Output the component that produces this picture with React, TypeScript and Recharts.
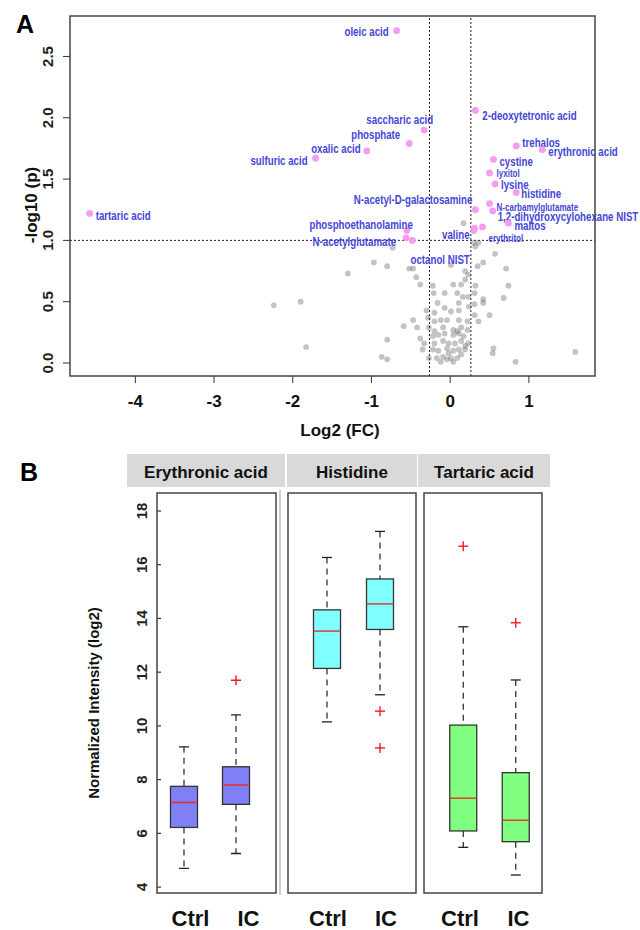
import React from 'react'
import { ScatterChart, Scatter, XAxis, YAxis, ReferenceLine, ComposedChart, Bar } from 'recharts'

// ---- Panel A: volcano plot ----
const sigNames = [
  'oleic acid', '2-deoxytetronic acid', 'saccharic acid', 'phosphate', 'oxalic acid', 'sulfuric acid',
  'trehalos', 'erythronic acid', 'cystine', 'lyxitol', 'lysine', 'histidine', 'N-carbamylglutamate',
  '1,2-dihydroxycylohexane NIST', 'N-acetyl-D-galactosamine', 'maltos', 'valine', 'erythritol',
  'octanol NIST', 'tartaric acid', 'phosphoethanolamine', 'N-acetylglutamate', '',
]
const sigFC = [-0.68, 0.32, -0.33, -0.52, -1.06, -1.71, 0.84, 1.17, 0.55, 0.5, 0.57, 0.84, 0.5, 0.54, 0.32, 0.74, 0.31, 0.41, 0.3, -4.58, -0.55, -0.56, -0.48]
const sigP = [2.71, 2.06, 1.9, 1.79, 1.73, 1.67, 1.77, 1.74, 1.66, 1.55, 1.46, 1.39, 1.3, 1.24, 1.25, 1.14, 1.1, 1.11, 1.08, 1.22, 1.08, 1.02, 1.0]

const bgFC = [
  -0.73, -0.97, -0.8, -1.3, -0.52, -0.47, -0.43, -0.38, -2.24, -1.9, -1.83, -0.8, -0.87, -0.8, -0.59, -0.47, -0.42,
  0.01, 0.19, 0.35, 0.42, 0.57, 0.71, 0.74, 0.68, 0.42, 0.42, 0.5, 0.32, 0.19, 0.14, 0.3, 0.36, 0.32, 0.17, 0.23,
  0.31, 0.23, 0.31, 0.31, 0.36, 0.55, 0.54, 0.83, 1.59,
  -0.22, -0.21, -0.07, 0.04, 0.09, 0.16, -0.16, -0.3, -0.2, -0.07, 0.01, 0.11, -0.28, -0.12, -0.04, 0.11, 0.22,
  -0.27, -0.2, -0.09, 0.04, 0.14, 0.22, -0.22, -0.15, -0.07, 0.04, 0.09, 0.11, 0.17, -0.33, -0.2, -0.09, -0.02,
  0.06, 0.14, 0.23, -0.35, -0.22, -0.15, -0.04, 0.04, 0.11, 0.19, -0.27, -0.17, -0.09, -0.04, 0.01, 0.04, 0.09,
  -0.12, 0.14, -0.02, -0.2, 0.11, 0.24, -0.38, 0.19,
]
const bgP = [
  0.94, 0.82, 0.79, 0.73, 0.77, 0.77, 0.7, 0.64, 0.47, 0.5, 0.13, 0.19, 0.05, 0.03, 0.3, 0.35, 0.29,
  0.8, 0.75, 0.79, 0.82, 0.89, 0.77, 0.63, 0.53, 0.52, 0.49, 0.39, 0.63, 0.68, 0.64, 0.98, 0.98, 0.95, 1.14, 0.72,
  0.57, 0.54, 0.48, 0.39, 0.34, 0.12, 0.08, 0.01, 0.09,
  0.63, 0.57, 0.57, 0.64, 0.57, 0.54, 0.49, 0.43, 0.41, 0.45, 0.42, 0.43, 0.37, 0.35, 0.35, 0.35, 0.34,
  0.29, 0.26, 0.29, 0.27, 0.29, 0.27, 0.22, 0.23, 0.24, 0.23, 0.26, 0.24, 0.22, 0.16, 0.16, 0.18, 0.16,
  0.16, 0.18, 0.16, 0.11, 0.11, 0.1, 0.12, 0.1, 0.11, 0.11, 0.04, 0.04, 0.05, 0.03, 0.04, 0.01, 0.04,
  0.01, 0.07, 0.08, 0.34, 0.49, 0.46, 0.2, 0.14,
]

const fcTicks = [-4, -3, -2, -1, 0, 1]
const pTicks = [0, 0.5, 1, 1.5, 2, 2.5]
const fcCutoff = 0.263
const pCutoff = 1

// ---- Panel B: box plots ----
const metabolites = ['Erythronic acid', 'Histidine', 'Tartaric acid']
const groups = ['Ctrl', 'IC']
const whiskerLow = [[4.7, 5.25], [10.15, 11.16], [5.48, 4.45]]
const quart1 = [[6.22, 7.08], [12.14, 13.59], [6.09, 5.69]]
const medians = [[7.15, 7.8], [13.53, 14.54], [7.31, 6.49]]
const quart3 = [[7.75, 8.48], [14.32, 15.47], [10.03, 8.26]]
const whiskerHigh = [[9.22, 10.41], [16.27, 17.24], [13.69, 11.71]]
const outliers = [[[], [11.7]], [[], [10.55, 9.18]], [[16.69], [13.84]]]
const intensityTicks = [4, 6, 8, 10, 12, 14, 16, 18]

// label placement next to each point (anchor, dx, dy, small font)
const labelSpot: Record<string, [string, number, number, boolean?]> = {
  'oleic acid': ['end', -8, 0],
  '2-deoxytetronic acid': ['start', 7, 4],
  'saccharic acid': ['end', 9, -11],
  phosphate: ['end', -9, -10],
  'oxalic acid': ['end', -6, -3],
  'sulfuric acid': ['end', -8, 2],
  trehalos: ['start', 6, -4],
  'erythronic acid': ['start', 6, 1],
  cystine: ['start', 6, 1],
  lyxitol: ['start', 7, 0, true],
  lysine: ['start', 6, 0],
  histidine: ['start', 5, 0],
  'N-carbamylglutamate': ['start', 7, 3, true],
  '1,2-dihydroxycylohexane NIST': ['start', 5, 5],
  'N-acetyl-D-galactosamine': ['end', -3, -11],
  maltos: ['start', 6, 2],
  valine: ['end', -5, 6],
  erythritol: ['start', 6, 11, true],
  'octanol NIST': ['end', -4, 28],
  'tartaric acid': ['start', 6, 1],
  phosphoethanolamine: ['end', 6, -7],
  'N-acetylglutamate': ['end', -10, 3],
}

const sigData = sigNames.map((name, i) => ({ name, fc: sigFC[i], p: sigP[i] }))
const bgData = bgFC.map((fc, i) => ({ fc, p: bgP[i] }))

const boldFont = "'Liberation Sans', Arial, sans-serif"
const labelBlue = '#4646d8'

const GreyDot = (props: any) => <circle cx={props.cx} cy={props.cy} r={2.9} fill="#444" fillOpacity={0.32} />

const SigDot = (props: any) => {
  const { cx, cy, payload } = props
  const spot = labelSpot[payload.name]
  return (
    <g>
      <circle cx={cx} cy={cy} r={3.4} fill="#f79cf2" />
      {spot && (
        // condensed label: the reference uses a narrow bold face
        <text
          transform={`translate(${cx + spot[1]} ${cy + spot[2]}) scale(0.73 1)`}
          textAnchor={spot[0] as any}
          dominantBaseline="central"
          fontFamily={boldFont}
          fontWeight="bold"
          fontSize={spot[3] ? 11 : 13.3}
          fill={labelBlue}
        >
          {payload.name}
        </text>
      )}
    </g>
  )
}

const RotTick = (props: any) => {
  const { x, y, payload, shift } = props
  const tx = x + shift
  return (
    <text x={tx} y={y} transform={`rotate(-90 ${tx} ${y})`} textAnchor="middle" fontFamily={boldFont} fontWeight="bold" fontSize={15} fill="#222">
      {payload.value.toFixed(1)}
    </text>
  )
}

const FcTick = (props: any) => (
  <text x={props.x} y={props.y + 20} textAnchor="middle" fontFamily={boldFont} fontWeight="bold" fontSize={17} fill="#111">
    {props.payload.value}
  </text>
)

function VolcanoPanel() {
  return (
    <ScatterChart width={640} height={445} margin={{ top: 16, right: 0, bottom: 39, left: 20 }}>
      <XAxis type="number" dataKey="fc" domain={[-4.83, 1.84]} ticks={fcTicks} axisLine={false} tickSize={7} tickMargin={4} tickLine={{ stroke: '#333' }} tick={<FcTick />} height={30} />
      <YAxis yAxisId="l" type="number" dataKey="p" domain={[-0.106, 2.83]} ticks={pTicks} width={50} axisLine={false} tickSize={7} tickLine={{ stroke: '#333' }} tick={<RotTick shift={-8} />} />
      <YAxis yAxisId="r" orientation="right" type="number" domain={[-0.106, 2.83]} ticks={pTicks} width={45} axisLine={false} tickSize={7} tickLine={{ stroke: '#333' }} tick={<RotTick shift={20} />} />
      <ReferenceLine yAxisId="l" x={-fcCutoff} stroke="#222" strokeDasharray="2 2" />
      <ReferenceLine yAxisId="l" x={fcCutoff} stroke="#222" strokeDasharray="2 2" />
      <ReferenceLine yAxisId="l" y={pCutoff} stroke="#222" strokeDasharray="2 2" />
      <Scatter yAxisId="l" data={bgData} shape={GreyDot} isAnimationActive={false} />
      <Scatter yAxisId="l" data={sigData} shape={SigDot} isAnimationActive={false} />
    </ScatterChart>
  )
}

const BoxShape = (props: any) => {
  const { x, y, width, height, payload, fill } = props
  const top = Math.min(y, y + height)
  const h = Math.abs(height)
  const { lo, hi } = payload
  const px = (v: number) => top + ((hi - v) / (hi - lo)) * h
  const cx = x + width / 2
  const cap = 5
  return (
    <g>
      <line x1={cx} x2={cx} y1={px(hi)} y2={px(payload.q3)} stroke="#222" strokeWidth={1.2} strokeDasharray="6 5" />
      <line x1={cx} x2={cx} y1={px(payload.q1)} y2={px(lo)} stroke="#222" strokeWidth={1.2} strokeDasharray="6 5" />
      <line x1={cx - cap} x2={cx + cap} y1={px(hi)} y2={px(hi)} stroke="#222" strokeWidth={1.3} />
      <line x1={cx - cap} x2={cx + cap} y1={px(lo)} y2={px(lo)} stroke="#222" strokeWidth={1.3} />
      <rect x={x} y={px(payload.q3)} width={width} height={px(payload.q1) - px(payload.q3)} fill={fill} stroke="#333" strokeWidth={1.3} />
      <line x1={x} x2={x + width} y1={px(payload.med)} y2={px(payload.med)} stroke="#e0302a" strokeWidth={1.4} />
      {payload.out.map((v: number, k: number) => (
        <g key={k} stroke="#f01c1c" strokeWidth={1.4}>
          <line x1={cx - 5} x2={cx + 5} y1={px(v)} y2={px(v)} />
          <line x1={cx} x2={cx} y1={px(v) - 5} y2={px(v) + 5} />
        </g>
      ))}
    </g>
  )
}

const IntensityTick = (props: any) => {
  const { x, y, payload } = props
  const tx = x - 10
  return (
    <g>
      <line x1={x} x2={x + 4} y1={y} y2={y} stroke="#333" strokeWidth={1.2} />
      <text x={tx} y={y} transform={`rotate(-90 ${tx} ${y})`} textAnchor="middle" fontFamily={boldFont} fontWeight="bold" fontSize={15} fill="#222">
        {payload.value}
      </text>
    </g>
  )
}

const RightInnerTick = (props: any) => (
  <line x1={props.x - 4} x2={props.x} y1={props.y} y2={props.y} stroke="#333" strokeWidth={1.2} />
)

const GroupTick = (props: any) => {
  const { x, y, payload, index, shifts } = props
  return (
    <text x={x + shifts[index]} y={y + 33} textAnchor="middle" fontFamily={boldFont} fontWeight="bold" fontSize={22} fill="#111">
      {payload.value}
    </text>
  )
}

const boxFill = ['#8080f6', '#80ffff', '#80ff80']
const frameLeft = [157, 288, 424]
const frameRight = [276, 416, 542]
const padLeft = [0.5, 12.5, 12.75]
const padRight = [14.5, 9.5, 0.25]
const groupShift = [[7, 13], [1, 6], [-3, 3]]

function BoxPanel({ i }: { i: number }) {
  const rows = groups.map((group, j) => ({
    group,
    lo: whiskerLow[i][j],
    q1: quart1[i][j],
    med: medians[i][j],
    q3: quart3[i][j],
    hi: whiskerHigh[i][j],
    out: outliers[i][j],
  }))
  const axisW = i === 0 ? 80 : 0
  const w = frameRight[i] - frameLeft[i] + axisW
  return (
    <div style={{ position: 'absolute', left: frameLeft[i] - axisW, top: 493 }}>
      <ComposedChart width={w} height={437} data={rows} margin={{ top: 0, right: 0, bottom: 0, left: 0 }}>
        <XAxis dataKey="group" type="category" padding={{ left: padLeft[i], right: padRight[i] }} height={37} axisLine={false} tickLine={false} tickSize={0} tickMargin={0} tick={<GroupTick shifts={groupShift[i]} />} />
        {i === 0 ? (
          <YAxis type="number" domain={[3.78, 18.67]} ticks={intensityTicks} allowDataOverflow width={80} axisLine={false} tickLine={false} tickSize={0} tickMargin={0} tick={<IntensityTick />} />
        ) : (
          <YAxis type="number" domain={[3.78, 18.67]} allowDataOverflow hide />
        )}
        {i === 2 && (
          <YAxis yAxisId="r" orientation="right" type="number" domain={[3.78, 18.67]} ticks={intensityTicks} allowDataOverflow width={0} axisLine={false} tickLine={false} tickSize={0} tickMargin={0} tick={<RightInnerTick />} />
        )}
        <Bar dataKey={(d: any) => [d.lo, d.hi]} barSize={27} fill={boxFill[i]} shape={BoxShape} isAnimationActive={false} />
      </ComposedChart>
    </div>
  )
}

function Decorations() {
  const headers = [
    [127, 158],
    [287, 130],
    [418, 132],
  ]
  return (
    <svg width={640} height={930} style={{ position: 'absolute', left: 0, top: 0, pointerEvents: 'none' }}>
      <text x={16} y={33} fontFamily={boldFont} fontWeight="bold" fontSize={25} fill="#000">A</text>
      <text x={37} y={205} transform="rotate(-90 37 205)" textAnchor="middle" fontFamily={boldFont} fontWeight="bold" fontSize={17} fill="#111">-log10 (p)</text>
      <text x={340} y={436} textAnchor="middle" fontFamily={boldFont} fontWeight="bold" fontSize={17} fill="#111">Log2 (FC)</text>
      <rect x={70} y={16} width={525} height={360} fill="none" stroke="#444" strokeWidth={1.5} />

      <text x={20} y={481} fontFamily={boldFont} fontWeight="bold" fontSize={25} fill="#000">B</text>
      {metabolites.map((m, k) => (
        <g key={m}>
          <rect x={headers[k][0]} y={454} width={headers[k][1]} height={33} fill="#d9d9d9" />
          <text x={headers[k][0] + headers[k][1] / 2} y={478} textAnchor="middle" fontFamily={boldFont} fontWeight="bold" fontSize={17} fill="#111">{m}</text>
          <rect x={frameLeft[k]} y={493} width={frameRight[k] - frameLeft[k]} height={400} fill="none" stroke="#444" strokeWidth={1.5} />
        </g>
      ))}
      <line x1={280} x2={280} y1={490} y2={895} stroke="#aaa" strokeWidth={1.2} />
      <text x={99} y={703} transform="rotate(-90 99 703)" textAnchor="middle" fontFamily={boldFont} fontWeight="bold" fontSize={15} fill="#111">Normalized Intensity (log2)</text>
    </svg>
  )
}

export default function App() {
  return (
    <div style={{ position: 'absolute', left: 0, top: 0, width: 640, height: 930, background: '#fff', overflow: 'hidden' }}>
      <div style={{ position: 'absolute', left: 0, top: 0 }}>
        <VolcanoPanel />
      </div>
      {metabolites.map((m, i) => (
        <BoxPanel key={m} i={i} />
      ))}
      <Decorations />
    </div>
  )
}
